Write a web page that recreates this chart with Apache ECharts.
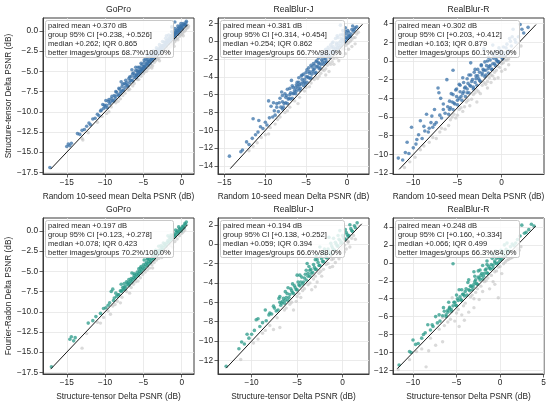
<!DOCTYPE html>
<html>
<head>
<meta charset="utf-8">
<script src="https://cdn.jsdelivr.net/npm/echarts@6/dist/echarts.min.js"></script>
<style>
  html, body { margin: 0; padding: 0; background: #fff; }
  #container { width: 550px; height: 405px; }
</style>
</head>
<body>
<div id="container"></div>
<script>
// panel texts
var panelTitles = ['GoPro', 'RealBlur-J', 'RealBlur-R', 'GoPro', 'RealBlur-J', 'RealBlur-R'];
var rowXNames = ['Random 10-seed mean Delta PSNR (dB)', 'Structure-tensor Delta PSNR (dB)'];
var rowYNames = ['Structure-tensor Delta PSNR (dB)', 'Fourier-Radon Delta PSNR (dB)'];
var statLines = [
  ['paired mean +0.370 dB', 'group 95% CI [+0.238, +0.526]', 'median +0.262; IQR 0.865', 'better images/groups 68.7%/100.0%'],
  ['paired mean +0.381 dB', 'group 95% CI [+0.314, +0.454]', 'median +0.254; IQR 0.862', 'better images/groups 66.7%/98.0%'],
  ['paired mean +0.302 dB', 'group 95% CI [+0.203, +0.412]', 'median +0.163; IQR 0.879', 'better images/groups 60.1%/90.0%'],
  ['paired mean +0.197 dB', 'group 95% CI [+0.123, +0.278]', 'median +0.078; IQR 0.423', 'better images/groups 70.2%/100.0%'],
  ['paired mean +0.194 dB', 'group 95% CI [+0.138, +0.252]', 'median +0.059; IQR 0.394', 'better images/groups 66.6%/88.0%'],
  ['paired mean +0.248 dB', 'group 95% CI [+0.160, +0.334]', 'median +0.066; IQR 0.499', 'better images/groups 66.3%/84.0%']
];

// axis limits and ticks
var xLimits = [[-18.1, 1.6], [-15.8, 2.7], [-12.3, 4.8], [-18.1, 1.6], [-13.7, 2.9], [-12.3, 5.05]];
var yLimits = [[-17.7, 1.6], [-14.9, 2.6], [-12.1, 4.6], [-17.7, 1.6], [-13.4, 2.7], [-12.4, 5.0]];
var xTicks = [[-15, -10, -5, 0], [-15, -10, -5, 0], [-10, -5, 0], [-15, -10, -5, 0], [-10, -5, 0], [-10, -5, 0, 5]];
var yTicks = [
  [-17.5, -15, -12.5, -10, -7.5, -5, -2.5, 0],
  [-14, -12, -10, -8, -6, -4, -2, 0, 2],
  [-12, -10, -8, -6, -4, -2, 0, 2, 4],
  [-17.5, -15, -12.5, -10, -7.5, -5, -2.5, 0],
  [-12, -10, -8, -6, -4, -2, 0, 2],
  [-12, -10, -8, -6, -4, -2, 0, 2, 4]
];
var yDecimals = [1, 0, 0, 1, 0, 0];
var diagonals = [[-17.1, 0.8], [-14.3, 1.9], [-11.6, 3.9], [-17.1, 0.75], [-12.8, 2.1], [-11.8, 4.1]];

// points [x, y]: images where the method on y is better / not better
var goproStBetter = [[-17.2,-16.9],[-15.0,-14.3],[-14.8,-14.0],[-14.6,-14.2],[-14.4,-13.9],[-13.6,-12.7],[-13.3,-12.8],[-13.0,-12.3],[-12.7,-12.2],[-12.4,-11.8],[-12.1,-11.4],[-11.9,-11.6],[-11.6,-10.9],[-11.3,-10.8],[-11.0,-10.3],[-10.8,-10.5],[-10.5,-9.8],[-10.2,-9.6],[-10.0,-9.4],[-9.8,-9.2],[-9.6,-8.7],[-9.4,-9.0],[-9.2,-8.4],[-9.0,-8.6],[-8.8,-8.0],[-8.7,-8.4],[-8.5,-7.6],[-8.3,-7.9],[-8.1,-7.2],[-8.0,-7.7],[-7.8,-6.9],[-7.7,-7.4],[-7.5,-6.5],[-7.4,-7.0],[-7.2,-6.4],[-7.1,-6.8],[-6.9,-5.9],[-6.8,-6.4],[-6.6,-5.6],[-6.5,-6.1],[-6.3,-5.2],[-6.2,-5.8],[-6.0,-4.5],[-5.9,-5.5],[-5.8,-4.9],[-5.6,-5.2],[-5.5,-4.5],[-5.4,-5.0],[-5.2,-4.2],[-5.1,-4.7],[-4.9,-3.9],[-4.8,-4.4],[-4.7,-3.5],[-4.5,-4.1],[-4.4,-3.5],[-4.2,-3.8],[-4.1,-3.1],[-3.9,-3.5],[-3.8,-2.9],[-3.6,-3.2],[-3.5,-2.6],[-3.3,-2.9],[-3.2,-2.3],[-3.0,-2.6],[-2.9,-2.1],[-2.7,-2.3],[-2.6,-1.8],[-2.4,-2.0],[-2.3,-1.4],[-2.1,-1.7],[-2.0,-1.2],[-1.8,-1.4],[-1.7,-0.9],[-1.5,-1.1],[-1.4,-0.6],[-1.2,-0.8],[-1.1,-0.3],[-0.9,-0.5],[-0.8,0.0],[-0.6,-0.2],[-0.5,0.3],[-0.3,0.1],[-0.2,0.6],[0.0,0.4],[0.2,0.9],[0.4,0.8],[0.6,1.2],[-0.9,1.1],[-1.3,0.5],[-2.0,-0.6],[-6.5,-4.8],[-7.9,-6.3],[-9.9,-8.6],[-10.3,-9.1],
  [-5.95,-5.8],[-5.9,-5.4],[-5.75,-5.1],[-5.7,-5.55],[-5.6,-4.95],[-5.45,-5.3],[-5.35,-4.8],[-5.25,-4.65],[-5.15,-5.0],[-5.0,-4.45],[-4.95,-4.75],[-4.85,-4.3],[-4.7,-4.55],[-4.6,-4.1],[-4.5,-3.8],[-4.4,-4.25],[-4.3,-3.75],[-4.15,-4.0],[-4.05,-3.55],[-3.95,-3.3],[-3.85,-3.7],[-3.75,-3.25],[-3.65,-3.05],[-3.55,-3.4],[-3.45,-2.95],[-3.35,-2.75],[-3.25,-3.1],[-3.15,-2.65],[-3.05,-2.4],[-2.95,-2.8],[-2.85,-2.35],[-2.75,-2.05],[-2.65,-2.5],[-2.55,-2.05],[-2.45,-1.8],[-2.35,-2.2],[-2.25,-1.75],[-2.15,-1.45],[-2.05,-1.9],[-1.95,-1.5],[-1.85,-1.15],[-1.75,-1.6],[-1.65,-1.2],[-1.55,-0.85],[-1.45,-1.3],[-1.35,-0.9],[-1.25,-0.55],[-1.15,-1.0],[-1.05,-0.6],[-0.95,-0.25],[-0.85,-0.7],[-0.75,-0.3],[-0.65,0.05],[-0.55,-0.4],[-0.45,0.0],[-0.35,0.35],[-0.25,-0.1],[-0.15,0.3],[-0.05,0.6],[0.05,0.2],[0.15,0.5],[0.3,0.75],[0.5,0.7],[0.55,1.0],[-9.7,-9.5],[-9.3,-8.8],[-8.9,-8.7],[-8.6,-8.1],[-8.2,-8.0],[-7.9,-7.5],[-7.6,-7.3],[-7.3,-6.6],[-7.0,-6.8],[-6.7,-6.1],[-6.4,-6.2],[-6.15,-5.5],
  [-10.6,-9.9],[-10.1,-9.2],[-9.5,-8.5],[-9.1,-8.1],[-8.6,-7.5],[-8.2,-7.1],[-7.7,-6.6],[-7.3,-6.1],[-6.8,-5.7],[-6.4,-5.3],[-6.0,-4.9],[-5.7,-4.5],[-5.3,-4.0],[-4.9,-3.6],[-4.5,-3.2],[-4.1,-2.8],[-3.7,-2.5],[-3.3,-2.1],[-2.9,-1.7],[-2.5,-1.3],[-2.1,-0.9],[-1.7,-0.5],[-1.3,-0.1],[-0.9,0.3],[-0.5,0.6],[-0.1,0.9]];
var goproStWorse = [[-13.0,-13.3],[-12.2,-12.6],[-11.0,-11.3],[-10.4,-10.6],[-9.8,-10.2],[-9.2,-9.4],[-8.6,-8.9],[-8.0,-8.4],[-7.4,-7.7],[-6.8,-7.2],[-6.2,-6.5],[-5.6,-6.0],[-5.0,-5.3],[-4.6,-5.0],[-4.2,-4.5],[-3.8,-4.3],[-3.4,-3.7],[-3.0,-3.4],[-2.6,-3.0],[-2.2,-2.6],[-1.8,-2.1],[-1.5,-2.0],[-1.2,-1.5],[-0.9,-1.3],[-0.6,-0.9],[-0.3,-0.7],[0.0,-0.4],[0.3,-0.1],[-1.0,-1.9],[-2.0,-2.9],[-9.5,-10.0],[-12.9,-13.5],[0.6,0.3],[0.9,0.6],
  [-5.8,-6.0],[-5.3,-5.6],[-4.9,-5.1],[-4.4,-4.7],[-4.0,-4.2],[-3.6,-3.9],[-3.2,-3.5],[-2.8,-3.1],[-2.4,-2.8],[-2.0,-2.3],[-1.7,-2.4],[-1.4,-1.7],[-1.1,-1.6],[-0.8,-1.1],[-0.5,-1.1],[-0.2,-0.5],[0.1,-0.2],[0.2,-0.6],[0.5,0.1],[0.8,0.4],[-2.9,-3.7],[-3.9,-4.6],[-6.4,-6.8],[-7.0,-7.3],[-7.7,-8.0],[-8.3,-8.7]];

var realjStBetter = [[-14.4,-12.9],[-13.0,-12.4],[-12.8,-12.2],[-12.3,-11.3],[-12.0,-11.6],[-11.6,-10.9],[-11.5,-8.7],[-11.2,-10.5],[-10.9,-10.2],[-10.8,-8.9],[-10.6,-9.6],[-10.3,-9.8],[-10.0,-9.1],[-9.8,-9.4],[-9.6,-6.7],[-9.5,-8.6],[-9.3,-7.3],[-9.1,-8.5],[-9.0,-6.9],[-8.9,-7.8],[-8.8,-8.3],[-8.6,-7.0],[-8.4,-7.9],[-8.2,-6.4],[-8.1,-7.4],[-8.0,-5.7],[-7.9,-6.8],[-7.8,-7.4],[-7.6,-5.9],[-7.5,-6.9],[-7.3,-5.4],[-7.2,-6.5],[-7.0,-6.0],[-6.9,-6.5],[-6.8,-4.4],[-6.7,-5.0],[-6.6,-5.9],[-6.4,-5.5],[-6.3,-5.9],[-6.1,-4.6],[-6.0,-5.3],[-5.8,-4.9],[-5.7,-5.3],[-5.5,-3.8],[-5.4,-4.6],[-5.2,-4.3],[-5.1,-4.8],[-4.9,-3.2],[-4.8,-4.0],[-4.6,-3.6],[-4.5,-4.2],[-4.3,-2.9],[-4.2,-3.4],[-4.0,-3.1],[-3.9,-3.6],[-3.7,-2.2],[-3.6,-2.8],[-3.4,-2.5],[-3.3,-3.0],[-3.1,-1.7],[-3.0,-2.3],[-2.8,-2.0],[-2.7,-2.4],[-2.5,-1.2],[-2.4,-1.7],[-2.2,-1.4],[-2.1,-1.8],[-1.9,-0.7],[-1.8,-1.2],[-1.6,-0.9],[-1.5,-1.2],[-1.3,-0.2],[-1.2,-0.7],[-1.0,-0.5],[-0.9,-0.7],[-0.7,0.3],[-0.6,-0.2],[-0.4,0.1],[-0.3,-0.1],[-0.1,0.8],[0.0,0.3],[0.2,0.6],[0.4,0.5],[0.6,1.3],[0.8,1.1],[1.0,1.5],[-0.8,1.8],[-0.2,1.5],
  [-7.9,-7.6],[-7.7,-7.0],[-7.5,-6.3],[-7.3,-7.0],[-7.1,-6.4],[-6.9,-5.8],[-6.7,-6.4],[-6.5,-5.8],[-6.3,-5.2],[-6.2,-5.6],[-6.0,-5.0],[-5.9,-4.6],[-5.8,-5.5],[-5.6,-4.8],[-5.5,-4.3],[-5.3,-5.0],[-5.2,-4.6],[-5.0,-4.0],[-4.9,-4.6],[-4.7,-4.1],[-4.6,-3.4],[-4.4,-4.1],[-4.3,-3.7],[-4.1,-3.2],[-4.0,-2.7],[-3.8,-3.5],[-3.7,-2.9],[-3.5,-2.4],[-3.4,-3.1],[-3.2,-2.6],[-3.1,-2.1],[-2.9,-2.6],[-2.8,-1.6],[-2.6,-2.0],[-2.5,-2.3],[-2.3,-1.6],[-2.2,-1.0],[-2.0,-1.7],[-1.9,-1.2],[-1.7,-0.6],[-1.6,-1.4],[-1.4,-0.8],[-1.3,-0.4],[-1.1,-0.9],[-1.0,-0.2],[-0.8,0.0],[-0.7,-0.5],[-0.5,0.2],[-0.4,0.6],[-0.2,0.0],[-0.1,0.4],[0.1,0.3],[0.2,1.0],[0.3,0.6],[0.5,0.8],[0.7,1.7],[0.9,1.3],[1.2,1.6],[-0.5,1.2],[-1.2,0.6],[-1.8,-0.2],
  [-8.6,-7.4],[-8.3,-6.9],[-7.9,-6.1],[-7.4,-6.1],[-7.0,-5.3],[-6.6,-5.2],[-6.2,-4.9],[-5.9,-4.1],[-5.6,-3.9],[-5.3,-3.7],[-5.0,-3.5],[-4.7,-3.0],[-4.4,-2.7],[-4.1,-2.5],[-3.8,-2.3],[-3.5,-1.9],[-3.2,-1.5],[-2.9,-1.3],[-2.6,-0.9],[-2.3,-0.7],[-2.0,-0.4],[-1.7,-0.1],[-1.4,0.3],[-1.1,0.4],[-0.8,0.7],[-0.5,0.8],[-0.2,1.1],[0.1,1.2]];
var realjStWorse = [[-12.0,-12.3],[-11.0,-11.4],[-10.0,-10.5],[-9.4,-9.7],[-8.8,-9.3],[-8.2,-8.5],[-7.6,-8.0],[-7.0,-7.4],[-6.4,-6.7],[-5.8,-6.3],[-5.2,-5.6],[-4.6,-5.1],[-4.0,-4.3],[-3.6,-4.2],[-3.2,-3.6],[-2.8,-3.3],[-2.4,-2.7],[-2.0,-2.6],[-1.6,-1.9],[-1.2,-1.8],[-0.8,-1.1],[-0.4,-0.9],[0.0,-0.3],[0.4,0.0],[0.8,0.4],[1.2,0.8],[-1.0,-2.2],[-2.2,-3.4],[-0.2,-1.4],[0.6,-0.6],[-6.0,-7.0],[-9.6,-10.4],
  [-5.0,-5.2],[-4.4,-4.7],[-3.8,-4.0],[-3.4,-3.9],[-3.0,-3.2],[-2.6,-3.1],[-2.2,-2.4],[-1.8,-2.3],[-1.4,-1.6],[-1.0,-1.4],[-0.6,-0.8],[-0.6,-1.5],[-0.2,-0.5],[0.2,-0.2],[0.2,-0.9],[0.6,0.2],[1.0,0.4],[1.0,-0.3],[1.4,1.0],[-1.6,-2.6],[-2.6,-3.8],[-7.3,-7.8],[-8.5,-8.8],[-10.5,-10.8],[-11.5,-11.8]];

var realrStBetter = [[-11.7,-10.4],[-11.2,-10.6],[-10.9,-9.8],[-10.7,-8.7],[-10.5,-9.9],[-10.2,-7.1],[-10.0,-9.3],[-9.7,-8.9],[-9.4,-7.9],[-9.2,-6.4],[-9.0,-8.3],[-8.8,-7.0],[-8.7,-7.5],[-8.5,-5.7],[-8.3,-7.6],[-8.0,-6.6],[-7.8,-7.1],[-7.6,-5.2],[-7.4,-6.6],[-7.2,-2.9],[-7.1,-3.4],[-7.0,-5.8],[-6.9,-4.0],[-6.8,-6.1],[-6.6,-4.6],[-6.4,-5.6],[-6.2,-2.0],[-6.1,-4.9],[-5.9,-5.2],[-5.7,-3.5],[-5.5,-1.0],[-5.4,-4.5],[-5.2,-3.1],[-5.0,-4.2],[-4.8,-2.5],[-4.6,-3.8],[-4.4,-1.8],[-4.3,-3.3],[-4.1,-2.8],[-3.9,-3.4],[-3.7,-1.5],[-3.6,-2.6],[-3.5,-0.2],[-3.4,-2.2],[-3.2,-2.8],[-3.0,-0.9],[-2.9,-1.9],[-2.7,-1.6],[-2.5,-2.1],[-2.3,-0.5],[-2.2,-1.3],[-2.0,-1.0],[-2.0,1.3],[-1.8,-1.5],[-1.6,0.0],[-1.5,-0.8],[-1.3,-0.5],[-1.1,-0.9],[-1.0,1.7],[-0.9,0.6],[-0.8,-0.3],[-0.6,0.1],[-0.4,-0.1],[-0.2,0.9],[0.0,0.4],[0.2,0.6],[0.5,1.4],[0.7,0.9],[1.0,2.1],[1.3,3.4],[1.6,2.0],[2.1,3.9],[2.5,3.0],[3.0,3.6],
  [-6.0,-5.7],[-5.8,-5.0],[-5.6,-4.4],[-5.5,-5.2],[-5.3,-4.6],[-5.1,-3.8],[-5.0,-4.7],[-4.8,-4.0],[-4.7,-3.3],[-4.5,-4.2],[-4.4,-3.5],[-4.2,-2.9],[-4.1,-3.8],[-3.9,-3.0],[-3.8,-2.4],[-3.7,-3.4],[-3.5,-2.7],[-3.3,-2.0],[-3.2,-3.0],[-3.0,-2.3],[-2.9,-1.6],[-2.8,-2.6],[-2.6,-1.9],[-2.5,-1.2],[-2.4,-2.2],[-2.2,-1.5],[-2.1,-0.9],[-1.9,-1.7],[-1.8,-1.0],[-1.7,-0.5],[-1.5,-1.3],[-1.4,-0.6],[-1.3,0.1],[-1.1,-0.9],[-1.0,-0.3],[-0.9,0.3],[-0.7,-0.5],[-0.6,0.4],[-0.5,0.0],[-0.3,-0.1],[-0.2,0.5],[-0.1,1.1],[0.1,0.2],[0.3,0.9],[0.4,0.5],[0.6,1.8],[0.8,1.1],[1.1,1.6],[1.2,2.6],[1.5,2.3],[1.9,2.6],[2.3,3.4],[-7.6,-6.8],[-8.2,-7.2],[-9.6,-8.4],[-6.6,-5.2],[-7.9,-5.9],
  [-5.9,-4.3],[-5.5,-3.6],[-5.1,-3.0],[-4.7,-2.6],[-4.3,-2.3],[-3.9,-1.9],[-3.5,-1.5],[-3.1,-1.2],[-2.7,-0.9],[-2.3,-0.4],[-1.9,-0.1],[-1.5,0.4],[-1.1,0.8],[-0.7,1.0],[-0.3,1.4],[0.2,1.5],[0.9,2.4]];
var realrStWorse = [[-11.0,-11.4],[-9.8,-10.3],[-9.2,-9.5],[-8.2,-8.7],[-7.8,-8.2],[-7.0,-7.6],[-6.4,-7.3],[-5.8,-6.3],[-5.4,-5.7],[-5.0,-5.8],[-4.6,-5.0],[-4.2,-4.9],[-3.8,-4.2],[-3.4,-4.1],[-3.0,-3.4],[-2.8,-4.4],[-2.6,-3.3],[-2.2,-2.6],[-1.8,-2.5],[-1.6,-2.9],[-1.4,-1.8],[-1.0,-1.6],[-0.6,-1.0],[-0.4,-1.8],[-0.2,-0.7],[0.2,-0.2],[0.4,-0.9],[0.6,0.1],[0.8,-0.4],[1.0,0.5],[1.4,0.8],[1.8,1.4],
  [-6.0,-6.9],[-5.6,-6.0],[-5.2,-6.1],[-4.8,-5.2],[-4.4,-5.4],[-4.0,-4.4],[-3.6,-4.8],[-3.2,-3.6],[-2.8,-3.1],[-2.4,-3.5],[-2.0,-2.3],[-1.6,-2.2],[-1.2,-1.5],[-1.2,-2.3],[-0.8,-1.2],[-0.8,-1.9],[-0.4,-0.6],[0.0,-0.3],[0.0,-1.1],[0.4,0.1],[0.8,0.2],[1.2,0.9],[1.6,1.0],[2.2,1.6],[-6.8,-7.2],[-7.4,-8.3],[-8.8,-9.1],[-10.4,-10.8]];

var goproFrBetter = [[-17.0,-16.8],[-14.6,-13.4],[-14.4,-13.1],[-14.1,-13.6],[-13.9,-13.2],[-12.2,-11.4],[-11.6,-11.1],[-11.2,-10.6],[-10.6,-10.2],[-10.2,-9.6],[-9.9,-9.5],[-9.4,-8.9],[-9.2,-7.5],[-9.0,-7.2],[-8.8,-8.3],[-8.6,-7.7],[-8.3,-7.9],[-8.0,-7.4],[-7.9,-6.6],[-7.8,-7.4],[-7.5,-6.9],[-7.3,-6.9],[-7.0,-6.4],[-6.8,-6.5],[-6.6,-5.9],[-6.5,-5.2],[-6.4,-6.0],[-6.2,-5.5],[-6.0,-5.7],[-5.8,-5.1],[-5.6,-5.3],[-5.4,-4.6],[-5.2,-4.8],[-5.0,-4.2],[-4.9,-3.6],[-4.8,-4.4],[-4.6,-3.9],[-4.4,-4.1],[-4.2,-3.5],[-4.0,-3.7],[-3.8,-3.1],[-3.6,-3.3],[-3.4,-2.8],[-3.2,-2.9],[-3.0,-2.4],[-3.0,-1.9],[-2.8,-2.5],[-2.6,-2.0],[-2.4,-2.1],[-2.2,-1.6],[-2.0,-1.7],[-1.8,-1.2],[-1.8,-0.6],[-1.6,-1.3],[-1.4,-0.8],[-1.2,-0.9],[-1.0,-0.4],[-0.8,-0.5],[-0.6,0.0],[-0.4,-0.1],[-0.2,0.3],[0.0,0.2],[0.2,0.6],[0.4,0.9],[0.6,1.1],
  [-8.2,-7.9],[-7.9,-7.5],[-7.6,-7.2],[-7.4,-7.2],[-7.1,-6.6],[-6.9,-6.7],[-6.7,-6.2],[-6.5,-6.3],[-6.3,-5.8],[-6.1,-5.9],[-5.9,-5.4],[-5.7,-5.5],[-5.5,-5.0],[-5.3,-5.1],[-5.1,-4.6],[-4.9,-4.7],[-4.7,-4.1],[-4.5,-4.3],[-4.3,-3.8],[-4.1,-3.9],[-3.9,-3.4],[-3.7,-3.5],[-3.5,-3.0],[-3.3,-3.1],[-3.1,-2.6],[-2.9,-2.7],[-2.7,-2.2],[-2.5,-2.3],[-2.3,-1.8],[-2.1,-1.9],[-1.9,-1.4],[-1.7,-1.5],[-1.5,-1.0],[-1.3,-1.1],[-1.1,-0.6],[-0.9,-0.7],[-0.7,-0.2],[-0.5,-0.3],[-0.3,0.2],[-0.1,0.0],[0.1,0.5],[0.3,0.4],[0.5,0.8],[-5.6,-4.7],[-4.5,-3.5],[-3.6,-2.7],[-2.7,-1.8],[-1.6,-0.8],[-0.8,0.1],[-6.9,-6.0],[-7.5,-6.5],
  [-9.6,-9.2],[-8.9,-8.6],[-8.5,-8.1],[-7.7,-7.0],[-7.2,-6.3],[-6.2,-5.3],[-5.3,-4.4],[-4.4,-3.4],[-3.4,-2.4],[-2.4,-1.5],[-1.4,-0.5],[-0.4,0.5]];
var goproFrWorse = [[-13.0,-14.5],[-12.4,-12.7],[-11.0,-11.3],[-10.6,-11.4],[-10.2,-10.7],[-9.3,-10.3],[-9.0,-9.3],[-8.4,-8.7],[-8.0,-8.9],[-7.8,-8.2],[-7.2,-7.5],[-6.8,-7.7],[-6.6,-7.0],[-6.0,-6.3],[-5.4,-5.8],[-4.8,-5.1],[-4.2,-4.6],[-3.8,-4.6],[-3.6,-3.9],[-3.0,-3.4],[-2.4,-2.7],[-2.0,-2.8],[-1.8,-2.2],[-1.2,-1.5],[-0.6,-1.0],[0.0,-0.3],[0.4,0.1],
  [-5.1,-5.4],[-4.5,-4.8],[-3.9,-4.2],[-3.3,-3.6],[-2.7,-3.0],[-2.1,-2.4],[-1.5,-1.8],[-0.9,-1.3],[-0.3,-0.6],[0.2,-0.1],[-1.2,-2.0],[-2.6,-3.3],[-5.7,-6.2],[-6.3,-6.6],[-8.7,-9.1],[-9.6,-9.9]];

var realjFrBetter = [[-12.8,-12.6],[-11.4,-10.8],[-11.1,-10.1],[-10.8,-10.3],[-10.5,-9.3],[-10.3,-9.7],[-10.0,-9.3],[-9.7,-8.9],[-9.5,-7.8],[-9.3,-7.7],[-9.1,-8.5],[-8.8,-8.1],[-8.5,-6.8],[-8.4,-7.9],[-8.1,-7.3],[-7.8,-7.2],[-7.5,-6.6],[-7.3,-6.9],[-7.0,-5.6],[-6.9,-5.4],[-6.7,-6.1],[-6.5,-5.6],[-6.3,-5.8],[-6.1,-5.1],[-6.0,-4.5],[-5.9,-5.5],[-5.7,-4.6],[-5.5,-5.0],[-5.3,-4.3],[-5.1,-4.7],[-5.0,-3.2],[-4.9,-3.9],[-4.7,-4.3],[-4.5,-3.4],[-4.3,-3.9],[-4.1,-3.1],[-3.9,-2.0],[-3.8,-3.3],[-3.6,-2.7],[-3.4,-3.0],[-3.2,-2.1],[-3.0,-2.6],[-2.8,-1.6],[-2.6,-2.2],[-2.5,-0.3],[-2.4,-1.3],[-2.2,-1.8],[-2.0,-0.9],[-1.8,-1.4],[-1.6,-0.5],[-1.5,0.7],[-1.4,-1.0],[-1.2,-0.2],[-1.0,-0.6],[-0.8,0.2],[-0.6,-0.2],[-0.4,0.5],[-0.2,0.1],[0.0,0.9],[0.2,0.5],[0.4,1.2],[0.6,0.8],[0.8,2.0],[1.0,1.4],[1.3,1.9],[1.6,2.2],
  [-7.1,-6.8],[-6.8,-6.3],[-6.6,-5.9],[-6.4,-6.1],[-6.2,-5.5],[-6.0,-5.8],[-5.8,-5.2],[-5.6,-4.8],[-5.4,-5.1],[-5.2,-4.5],[-5.0,-4.7],[-4.8,-4.2],[-4.6,-3.9],[-4.4,-4.1],[-4.2,-3.5],[-4.0,-3.7],[-3.8,-3.0],[-3.6,-3.3],[-3.5,-2.6],[-3.3,-2.9],[-3.1,-2.4],[-2.9,-2.6],[-2.7,-1.9],[-2.5,-2.2],[-2.3,-1.5],[-2.1,-1.8],[-1.9,-1.1],[-1.7,-1.4],[-1.5,-0.8],[-1.3,-1.0],[-1.1,-0.4],[-0.9,-0.6],[-0.7,0.0],[-0.5,-0.2],[-0.3,0.4],[-0.1,0.2],[0.1,0.7],[0.3,0.5],[0.5,1.0],[0.7,0.9],[0.9,1.6],[1.1,1.3],[1.4,1.7],[-0.3,1.4],[-1.0,0.6],[-2.0,-0.5],[-3.0,-1.6],[-4.0,-2.7],
  [-8.0,-7.1],[-7.6,-6.4],[-6.9,-6.0],[-6.3,-4.9],[-5.5,-4.1],[-4.7,-3.2],[-3.7,-2.3],[-2.9,-1.2],[-2.2,-0.8],[-1.3,0.1],[-0.5,0.9],[0.3,1.5]];
var realjFrWorse = [[-11.2,-11.9],[-9.8,-10.2],[-8.8,-9.2],[-8.0,-8.4],[-7.6,-8.8],[-7.2,-7.6],[-6.9,-8.6],[-6.4,-6.8],[-5.8,-6.2],[-5.4,-6.8],[-5.0,-5.4],[-4.6,-5.5],[-4.4,-4.8],[-3.8,-4.2],[-3.2,-3.6],[-3.0,-4.4],[-2.8,-3.9],[-2.6,-3.0],[-2.1,-2.6],[-1.6,-2.0],[-1.4,-2.4],[-1.0,-1.5],[-0.8,-1.9],[-0.6,-1.0],[-0.2,-0.6],[0.2,-0.1],[0.4,-0.5],[0.6,0.3],[1.0,0.6],
  [-6.2,-6.6],[-5.6,-6.0],[-5.1,-5.9],[-4.8,-5.1],[-4.2,-4.6],[-3.6,-4.0],[-3.4,-4.7],[-3.0,-3.3],[-2.4,-2.8],[-2.3,-3.3],[-1.8,-2.1],[-1.2,-1.6],[-1.1,-2.3],[-0.6,-0.9],[-0.4,-1.5],[0.0,-0.3],[0.2,-0.8],[0.6,0.2],[0.8,-0.3],[1.2,0.9],[1.4,0.5],[-8.5,-8.9],[-9.3,-9.8]];

var realrFrBetter = [[-11.6,-11.4],[-10.4,-9.9],[-10.2,-10.0],[-10.0,-8.6],[-9.7,-9.1],[-9.4,-9.0],[-9.0,-8.4],[-8.6,-7.8],[-8.3,-6.9],[-8.0,-7.5],[-7.7,-7.1],[-7.4,-6.0],[-7.2,-6.7],[-6.9,-6.5],[-6.6,-5.9],[-6.4,-5.4],[-6.2,-5.8],[-6.0,-5.3],[-5.8,-5.1],[-5.6,-5.2],[-5.4,-0.1],[-5.3,-4.4],[-5.1,-4.7],[-4.9,-4.0],[-4.7,-3.0],[-4.5,-4.1],[-4.3,-3.5],[-4.1,-3.7],[-3.9,-2.9],[-3.6,-1.9],[-3.5,-3.1],[-3.3,-2.6],[-3.1,-2.7],[-3.0,-1.0],[-2.9,-2.1],[-2.7,-2.3],[-2.5,-1.6],[-2.3,-1.9],[-2.1,-1.2],[-2.0,-0.3],[-1.9,-1.5],[-1.7,-0.8],[-1.5,-1.1],[-1.3,-0.4],[-1.1,-0.7],[-1.0,1.0],[-0.9,0.5],[-0.8,-0.3],[-0.6,0.2],[-0.4,-0.1],[-0.2,0.6],[0.0,0.3],[0.2,1.0],[0.4,0.7],[0.7,1.5],[1.0,1.3],[1.4,2.1],[1.8,2.2],[2.3,3.0],[2.5,4.2],[3.0,3.4],[3.6,4.3],[3.9,4.1],
  [-6.2,-6.0],[-6.0,-5.5],[-5.8,-5.0],[-5.6,-5.4],[-5.4,-4.8],[-5.2,-4.4],[-5.0,-4.8],[-4.8,-4.2],[-4.6,-3.8],[-4.4,-4.2],[-4.2,-3.5],[-4.0,-3.2],[-3.8,-3.6],[-3.6,-3.0],[-3.4,-2.6],[-3.2,-3.0],[-3.0,-2.4],[-2.8,-1.9],[-2.6,-2.4],[-2.4,-1.7],[-2.2,-1.4],[-2.0,-1.8],[-1.8,-1.2],[-1.6,-0.7],[-1.4,-1.2],[-1.2,-0.6],[-1.0,-0.2],[-0.8,-0.6],[-0.6,0.0],[-0.4,0.5],[-0.2,0.0],[0.0,0.6],[0.2,0.4],[0.4,1.2],[0.6,0.8],[0.9,1.2],[1.2,1.8],[1.6,1.9],[2.0,2.6],[2.8,3.3],[3.3,3.7],[-1.5,0.2],[-2.5,-0.9],[-0.5,1.3],[0.5,2.0],[-7.8,-6.9],[-8.8,-8.0],
  [-7.0,-5.8],[-6.5,-5.0],[-5.9,-4.4],[-5.0,-3.6],[-4.4,-3.0],[-3.7,-2.2],[-2.9,-1.5],[-2.3,-0.8],[-1.5,-0.2],[-0.7,0.8],[0.1,1.4],[0.8,2.2]];
var realrFrWorse = [[-11.7,-11.9],[-9.0,-9.6],[-8.5,-11.6],[-8.0,-8.4],[-7.4,-9.2],[-7.0,-7.4],[-6.6,-8.8],[-6.6,-6.1],[-6.0,-6.6],[-5.8,-4.9],[-5.5,-3.9],[-5.2,-6.5],[-4.8,-5.2],[-4.7,-7.1],[-4.2,-4.8],[-3.6,-5.5],[-3.4,-3.8],[-3.0,-4.0],[-2.8,-3.3],[-2.4,-4.1],[-2.2,-2.6],[-1.6,-2.0],[-1.2,-2.9],[-1.0,-1.4],[-0.8,-2.1],[-0.4,-0.9],[-0.2,-3.9],[0.0,-0.4],[0.4,-0.1],[0.8,0.3],[1.2,0.5],[1.6,1.0],[2.0,1.6],[2.4,1.8],
  [-6.4,-7.0],[-5.7,-6.3],[-5.0,-5.6],[-4.4,-5.8],[-4.0,-4.5],[-3.2,-3.6],[-3.0,-5.0],[-2.6,-2.9],[-2.0,-3.2],[-1.8,-2.1],[-1.4,-1.7],[-0.6,-1.0],[-0.6,-2.4],[-0.2,-0.5],[0.2,-1.2],[0.6,0.1],[1.0,0.4],[1.4,0.6],[1.8,1.3],[2.2,1.4],[-8.2,-9.8],[-9.6,-9.9],[-10.4,-10.8],[-4.1,-6.4]];

var betterPoints = [goproStBetter, realjStBetter, realrStBetter, goproFrBetter, realjFrBetter, realrFrBetter];
var worsePoints = [goproStWorse, realjStWorse, realrStWorse, goproFrWorse, realjFrWorse, realrFrWorse];
var rowColors = ['#3a72a8', '#2a9a88'];

var FONT = '"Liberation Sans", Arial, sans-serif';
var colLeft = [43, 218, 393];
var rowTop = [18, 218];
var plotW = 151, plotH = 156;

function tickFormatter(decimals) {
  return function (v) {
    return v.toFixed(decimals).replace('-', '\u2212');
  };
}

var grids = [], xAxes = [], yAxes = [], seriesList = [], boxes = [], labels = [];

for (var i = 0; i < 6; i++) {
  var row = Math.floor(i / 3), col = i % 3;
  var gLeft = colLeft[col], gTop = rowTop[row];

  grids.push({
    left: gLeft, top: gTop, width: plotW, height: plotH,
    show: true, borderColor: '#3a3a3a', borderWidth: 1, backgroundColor: 'transparent'
  });

  xAxes.push({
    type: 'value', gridIndex: i,
    min: xLimits[i][0], max: xLimits[i][1],
    name: rowXNames[row], nameLocation: 'middle', nameGap: 19,
    nameTextStyle: { fontSize: 8.3, color: '#262626', fontFamily: FONT },
    axisLine: { show: true, onZero: false, lineStyle: { color: '#3a3a3a', width: 1 } },
    axisTick: { show: true, length: 3.5, customValues: xTicks[i], lineStyle: { color: '#3a3a3a', width: 0.8 } },
    axisLabel: { customValues: xTicks[i], formatter: tickFormatter(0), fontSize: 8.3, color: '#262626', fontFamily: FONT, margin: 5 },
    splitLine: { show: true, lineStyle: { color: '#e6e6e6', width: 0.8 } }
  });

  yAxes.push({
    type: 'value', gridIndex: i,
    min: yLimits[i][0], max: yLimits[i][1],
    name: col === 0 ? rowYNames[row] : '', nameLocation: 'middle', nameGap: 30,
    nameTextStyle: { fontSize: 8.3, color: '#262626', fontFamily: FONT },
    axisLine: { show: true, onZero: false, lineStyle: { color: '#3a3a3a', width: 1 } },
    axisTick: { show: true, length: 3.5, customValues: yTicks[i], lineStyle: { color: '#3a3a3a', width: 0.8 } },
    axisLabel: { customValues: yTicks[i], formatter: tickFormatter(yDecimals[i]), fontSize: 8.3, color: '#262626', fontFamily: FONT, margin: 5 },
    splitLine: { show: true, lineStyle: { color: '#e6e6e6', width: 0.8 } }
  });

  seriesList.push({
    type: 'scatter', xAxisIndex: i, yAxisIndex: i,
    data: worsePoints[i], symbolSize: 3.4, z: 2,
    itemStyle: { color: '#bbbbbb', opacity: 0.55 }
  });
  seriesList.push({
    type: 'scatter', xAxisIndex: i, yAxisIndex: i,
    data: betterPoints[i], symbolSize: 3.6, z: 3,
    itemStyle: { color: rowColors[row], opacity: 0.75 }
  });
  seriesList.push({
    type: 'line', xAxisIndex: i, yAxisIndex: i,
    data: [[diagonals[i][0], diagonals[i][0]], [diagonals[i][1], diagonals[i][1]]],
    showSymbol: false, symbol: 'none', z: 4,
    lineStyle: { color: '#1a1a1a', width: 1 }
  });

  // stats box
  boxes.push({
    text: statLines[i].join('\n'),
    left: gLeft + 2, top: gTop + 2,
    padding: [2, 3, 1, 3],
    backgroundColor: 'rgba(255,255,255,0.82)',
    borderColor: '#c8c8c8', borderWidth: 1, borderRadius: 2,
    textStyle: { fontSize: 7.6, lineHeight: 8.7, color: '#262626', fontFamily: FONT, fontWeight: 'normal' }
  });

  // panel title
  labels.push({
    type: 'text', z: 100,
    x: gLeft + plotW / 2, y: gTop - 8,
    style: {
      text: panelTitles[i], fill: '#262626', font: '8.6px ' + FONT,
      align: 'center', verticalAlign: 'middle', textAlign: 'center', textVerticalAlign: 'middle'
    }
  });
}

var myChart = echarts.init(document.getElementById('container'));
myChart.setOption({
  animation: false,
  backgroundColor: '#fff',
  grid: grids,
  xAxis: xAxes,
  yAxis: yAxes,
  title: boxes,
  graphic: labels,
  series: seriesList
});
</script>
</body>
</html>
